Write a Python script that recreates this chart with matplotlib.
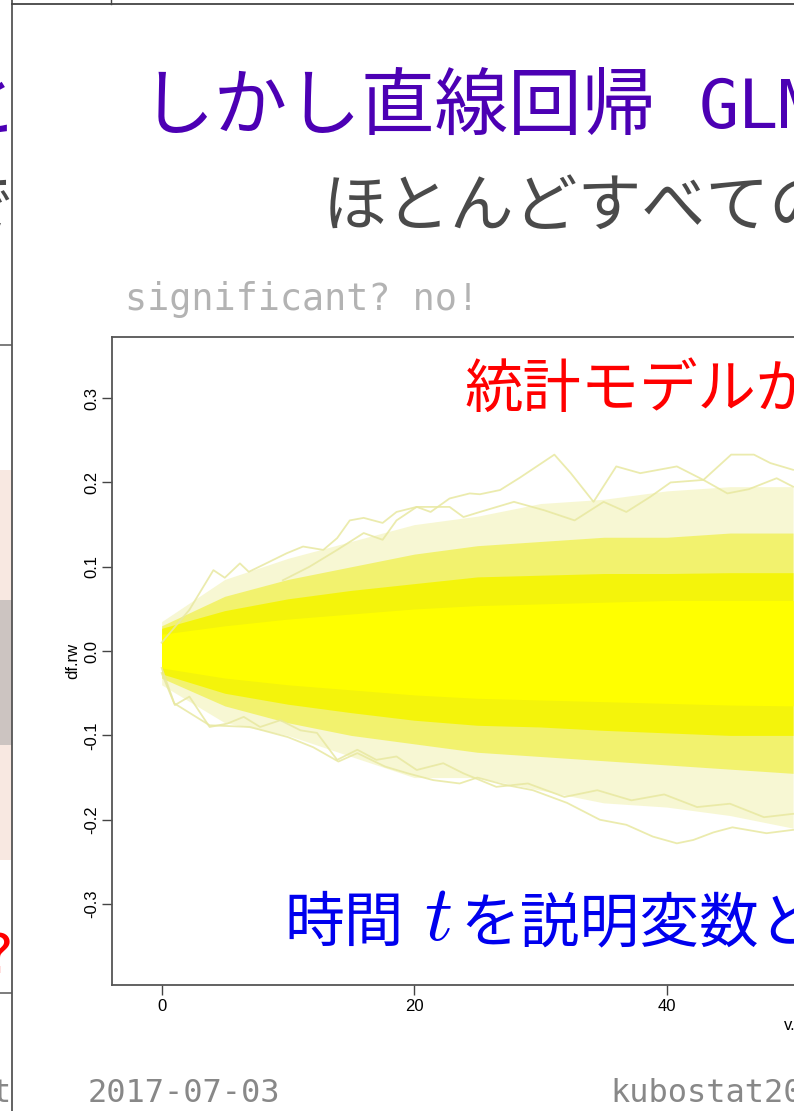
# random walk slide: envelope of many walks drawn as yellow bands plus a few stray paths
import matplotlib.pyplot as plt

W, H = 794, 1111

# walk envelope read at every 5 steps
t_grid = [0, 5, 10, 15, 20, 25, 30, 35, 40, 45, 50]
outer_hi = [0.035, 0.085, 0.11, 0.13, 0.15, 0.16, 0.175, 0.18, 0.19, 0.195, 0.195]
outer_lo = [-0.04, -0.085, -0.1, -0.125, -0.15, -0.15, -0.165, -0.18, -0.185, -0.195, -0.21]
mid_hi = [0.03, 0.065, 0.085, 0.1, 0.115, 0.125, 0.13, 0.135, 0.135, 0.14, 0.14]
mid_lo = [-0.032, -0.065, -0.085, -0.1, -0.11, -0.12, -0.125, -0.13, -0.135, -0.14, -0.145]
core_hi = [0.027, 0.048, 0.062, 0.072, 0.08, 0.088, 0.09, 0.092, 0.092, 0.093, 0.093]
core_lo = [-0.027, -0.05, -0.063, -0.073, -0.082, -0.088, -0.09, -0.094, -0.097, -0.1, -0.1]
inner_hi = [0.02, 0.03, 0.038, 0.044, 0.05, 0.054, 0.056, 0.058, 0.06, 0.06, 0.06]
inner_lo = [-0.02, -0.032, -0.04, -0.046, -0.052, -0.056, -0.058, -0.06, -0.062, -0.064, -0.065]

# stray walks at the edges
top_t = [0, 2.2, 4.1, 5.0, 6.2, 6.9, 8.0, 9.9, 11.2, 12.8, 13.9, 14.9, 16.0, 17.5, 18.6,
         20.2, 21.3, 22.8, 24.4, 25.2, 26.8, 28.4, 31.1, 32.4, 34.2, 36.0, 37.9, 40.8,
         42.9, 45.1, 46.9, 48.2, 50.0]
top_y = [0.01, 0.049, 0.096, 0.087, 0.104, 0.094, 0.102, 0.116, 0.124, 0.12, 0.134, 0.155,
         0.158, 0.152, 0.165, 0.171, 0.165, 0.181, 0.187, 0.186, 0.191, 0.206, 0.233, 0.211,
         0.177, 0.219, 0.211, 0.219, 0.203, 0.233, 0.233, 0.223, 0.215]
sec_t = [9.6, 11.7, 13.9, 16.0, 17.5, 18.6, 20.2, 22.8, 23.9, 25.2, 27.9, 30.3, 32.7, 35.0,
         36.8, 38.7, 40.3, 42.9, 44.8, 46.5, 48.7, 50.0]
sec_y = [0.084, 0.1, 0.12, 0.14, 0.132, 0.155, 0.171, 0.171, 0.159, 0.165, 0.177, 0.167,
         0.155, 0.177, 0.165, 0.183, 0.2, 0.203, 0.187, 0.192, 0.205, 0.195]
bl_t = [0, 1.05, 2.2, 3.8, 5.2, 6.5, 7.8, 9.4, 11.0, 12.3, 13.9, 15.5, 17.0, 18.6, 20.2,
        22.3, 23.9, 26.5, 29.0, 31.9, 34.5, 37.2, 39.8, 42.4, 45.0, 47.7, 50.0]
bl_y = [-0.026, -0.064, -0.054, -0.09, -0.086, -0.078, -0.09, -0.082, -0.094, -0.097, -0.129,
        -0.117, -0.129, -0.125, -0.141, -0.133, -0.145, -0.161, -0.157, -0.173, -0.165,
        -0.177, -0.17, -0.185, -0.181, -0.197, -0.193]
low_t = [0, 1.0, 3.8, 7.0, 10.0, 12.0, 14.0, 15.5, 17.7, 19.5, 21.5, 23.6, 25.0, 27.0, 29.4,
         32.1, 34.7, 36.8, 38.9, 40.8, 42.1, 43.7, 45.2, 47.9, 50.0]
low_y = [-0.02, -0.062, -0.088, -0.09, -0.102, -0.114, -0.131, -0.121, -0.137, -0.145,
         -0.153, -0.157, -0.15, -0.158, -0.165, -0.18, -0.2, -0.206, -0.22, -0.228, -0.224,
         -0.215, -0.209, -0.216, -0.212]

y_ticks = [-0.3, -0.2, -0.1, 0.0, 0.1, 0.2, 0.3]
y_tick_labels = ['-0.3', '-0.2', '-0.1', '0.0', '0.1', '0.2', '0.3']
x_ticks = [0, 20, 40, 60, 80, 100]

title = 'しかし直線回帰'
title_latin = 'GLM'
subtitle = 'ほとんどすべての'
note = 'significant? no!'
red_msg = '統計モデルが'
blue_a = '時間'
blue_b = 'を説明変数と'
date = '2017-07-03'
footer = 'kubostat2017'

CJK = ['Noto Sans CJK JP', 'DejaVu Sans']
plt.rcParams['font.family'] = ['Liberation Sans']
plt.rcParams['mathtext.fontset'] = 'cm'


def fx(x):
    return x / W


def fy(y):
    return 1 - y / H


fig = plt.figure(figsize=(W / 100, H / 100), dpi=100)
fig.patch.set_facecolor('white')

# --- neighbouring slide peeking in on the left ---
strip = fig.add_axes([0, 0, fx(12), 1])
strip.set_xlim(0, 12)
strip.set_ylim(H, 0)
strip.axis('off')
strip.fill_between([0, 12], 470, 860, color='#f4d6ca', alpha=0.55, lw=0)
strip.fill_between([0, 12], 600, 745, color='#a8a8a8', alpha=0.55, lw=0)
strip.axhline(345, color='#666666', lw=1.2)
strip.axhline(993, color='#666666', lw=1.2)
strip.text(18, 131, 'と', family=CJK, fontsize=53, color='#4c00b4', ha='right',
           va='baseline', clip_on=True)
strip.text(14, 226, 'で', family=CJK, fontsize=46, color='#4a4a4a', ha='right',
           va='baseline', clip_on=True)
strip.text(13, 973, '?', family='DejaVu Sans', fontsize=40, color='#ff0000', ha='right',
           va='baseline', clip_on=True)
strip.text(11, 1102, 't', family='DejaVu Sans Mono', fontsize=23, color='#888888',
           ha='right', va='baseline', clip_on=True)

# slide frame
fig.add_artist(plt.Line2D([fx(12), fx(12)], [0, 1], color='#555555', lw=1.3))
fig.add_artist(plt.Line2D([fx(12), 1], [fy(3.5), fy(3.5)], color='#444444', lw=1.3))
fig.add_artist(plt.Line2D([fx(111), fx(111)], [fy(0), fy(3.5)], color='#444444', lw=1.0))

# --- plot panel ---
ax = fig.add_axes([fx(112), fy(985), (1475 - 112) / W, (985 - 337) / H])
ax.set_xlim(-3.93, 104)
ax.set_ylim(-0.396, 0.3725)
ax.set_facecolor('white')

ax.fill_between(t_grid, outer_lo, outer_hi, color='#f0f0a8', alpha=0.5, lw=0)
ax.fill_between(t_grid, mid_lo, mid_hi, color='#f0f038', alpha=0.65, lw=0)
ax.fill_between(t_grid, core_lo, core_hi, color='#f5f500', alpha=0.9, lw=0)
ax.fill_between(t_grid, inner_lo, inner_hi, color='#ffff00', alpha=1.0, lw=0)

for tt, yy in [(top_t, top_y), (sec_t, sec_y), (bl_t, bl_y), (low_t, low_y)]:
    ax.plot(tt, yy, color='#e8e8a0', lw=1.3, alpha=0.85)

for side in ['left', 'bottom', 'top']:
    ax.spines[side].set_color('#555555')
    ax.spines[side].set_linewidth(1.3)
ax.spines['right'].set_visible(False)

ax.set_yticks(y_ticks)
ax.set_yticklabels(y_tick_labels)
ax.set_xticks(x_ticks)
ax.tick_params(axis='both', length=7, width=1.0, color='#444444', labelsize=12)
ax.tick_params(axis='y', pad=2, labelrotation=90)
ax.tick_params(axis='x', pad=3)
for lab in ax.get_yticklabels():
    lab.set_va('center')

ax.set_ylabel('df.rw', fontsize=12, va='center')
ax.yaxis.set_label_coords(-39 / 1363, 0.5)
ax.set_xlabel('v.x', fontsize=12, va='center')
ax.xaxis.set_label_coords(0.5, -40 / 648)

# --- slide texts ---
fig.text(fx(141), fy(129), title, family=CJK, fontsize=53, color='#4c00b4',
         va='baseline')
fig.text(fx(699), fy(128), title_latin, family='DejaVu Sans Mono', fontsize=48,
         color='#4c00b4', va='baseline')
fig.text(fx(323), fy(226), subtitle, family=CJK, fontsize=46, color='#4a4a4a',
         va='baseline')
fig.text(fx(125), fy(310), note, family='DejaVu Sans Mono', fontsize=26.5,
         color='#b3b3b3', va='baseline')
fig.text(fx(465), fy(407), red_msg, family=CJK, fontsize=42, color='#ff0000',
         va='baseline')
fig.text(fx(284), fy(941), blue_a, family=CJK, fontsize=43, color='#0000ee',
         va='baseline')
fig.text(fx(424), fy(940), '$t$', fontsize=56, color='#0000ee', va='baseline')
fig.text(fx(460), fy(941), blue_b, family=CJK, fontsize=43, color='#0000ee',
         va='baseline')
fig.text(fx(88), fy(1102), date, family='DejaVu Sans Mono', fontsize=23,
         color='#888888', va='baseline')
fig.text(fx(610), fy(1102), footer, family='DejaVu Sans Mono', fontsize=23,
         color='#888888', va='baseline')

fig.savefig('out.png', dpi=100)
